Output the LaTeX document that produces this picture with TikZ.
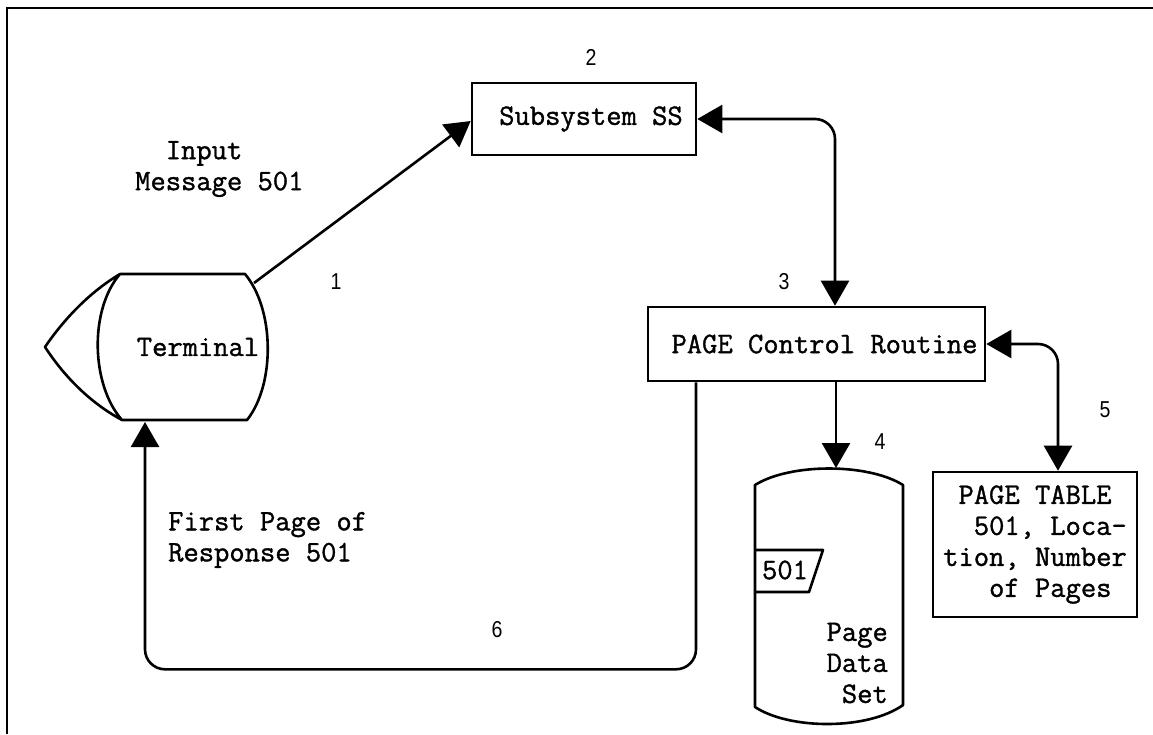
\documentclass[tikz,border=0pt]{standalone}
\usepackage{fontspec}
\setmonofont[FakeBold=1.2]{Latin Modern Mono}
\newfontfamily\numfont[FakeStretch=0.85]{Liberation Sans}
\usetikzlibrary{arrows.meta,calc}
\tikzset{
  >={Triangle[length=25pt,width=28pt]},
  txt/.style={font=\ttfamily\fontsize{29.7}{31}\selectfont, inner sep=0pt},
  boxnode/.style={txt, draw, line width=2.6pt, rectangle},
  num/.style={font=\numfont\fontsize{23}{27}\selectfont, inner sep=0pt},
  conn/.style={line width=2.6pt},
  shapeline/.style={line width=2.6pt, line join=round}
}
\begin{document}
\begin{tikzpicture}[x=1pt,y=-1pt]
\useasboundingbox (0,0) rectangle (1153,734);
% frame
\draw[line width=2.8pt] (7,734) -- (7,8) -- (1153,8);

% terminal
\draw[shapeline] (120,274) -- (245,274)
  .. controls (275,310) and (275,385) .. (247,420)
  -- (122,420)
  .. controls (91,385) and (89,310) .. (120,274)
  .. controls (85,295) and (60,325) .. (45,347)
  .. controls (60,370) and (85,400) .. (122,420);
\node[txt] (term) at (198,347) {Terminal};
\coordinate (termtop) at (254,283);
\coordinate (termbot) at (145,422);

% boxes
\node[boxnode, minimum width=224pt, minimum height=72pt] (ss) at (584,119) {\hspace*{14pt}Subsystem SS};
\node[boxnode, minimum width=337pt, minimum height=74pt] (pcr) at (816.5,344) {\hspace*{16pt}PAGE Control Routine};
\node[boxnode, minimum width=204pt, minimum height=145pt, align=left] (pt) at (1035,544.5)
  {\phantom{X}PAGE TABLE\\\phantom{XX}501, Loca-\\tion, Number\\\phantom{XXX}of Pages};

% page data set cylinder
\draw[shapeline] (755,485) .. controls (790,463) and (868,463) .. (903,485)
  -- (903,705) .. controls (868,730) and (790,730) .. (755,707) -- cycle;
\coordinate (cyltop) at (836,468);
\draw[shapeline] (755,550) -- (823,550) -- (809,592) -- (755,592);
\node[txt] (tag) at (785,570) {501};
\node[txt, anchor=east, align=right] (pds) at (888,663) {Page\\Data\\Set};

% texts
\node[txt, anchor=west, align=left] (inmsg) at (135,169) {\phantom{XX}Input\\Message 501};
\node[txt, anchor=west, align=left] (resp) at (168,540) {First Page of\\Response 501};

% numbers
\node[num] (n1) at (336,282) {1};
\node[num] (n2) at (591,57) {2};
\node[num] (n3) at (784,282) {3};
\node[num] (n4) at (880,442) {4};
\node[num] (n5) at (1105,410) {5};
\node[num] (n6) at (497,630) {6};

% connectors
\draw[conn,->] (termtop) -- ([yshift=-2pt]ss.west);
\draw[conn,<->,rounded corners=20pt] (ss.east) -| ([xshift=18.5pt]pcr.north);
\draw[conn,<->,rounded corners=20pt] (pcr.east) -| ([xshift=23pt]pt.north);
\draw[conn,->] ([xshift=19.5pt]pcr.south) -- (cyltop);
\draw[conn,->,rounded corners=20pt] ([xshift=-120.5pt]pcr.south) -- ++(0,287) -| (termbot);
\end{tikzpicture}
\end{document}
